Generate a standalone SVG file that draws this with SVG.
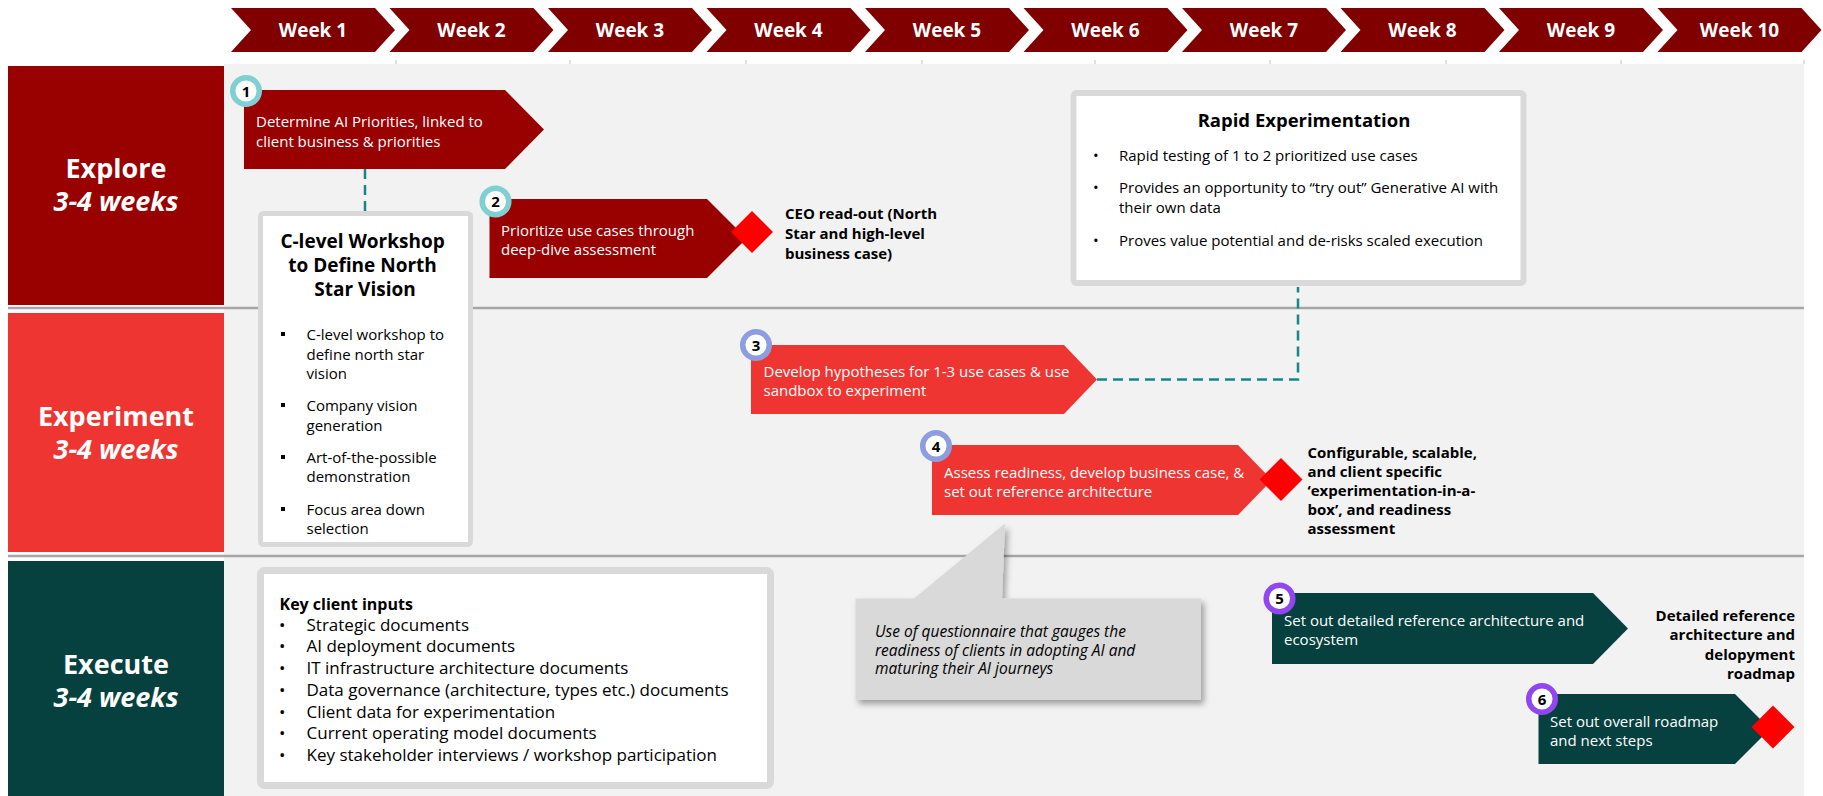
<svg xmlns="http://www.w3.org/2000/svg" width="1823" height="796" viewBox="0 0 1823 796">
  <defs>
    <filter id="shadow" x="-10%" y="-20%" width="130%" height="150%">
      <feDropShadow dx="3" dy="4" stdDeviation="3" flood-color="#000" flood-opacity="0.35"/>
    </filter>
    <style>
      text { font-family: "Open Sans", "Noto Sans", sans-serif; }
      .week { fill: #800000; }
      .week-t { fill: #fff; font-size: 19px; font-weight: 700; text-anchor: middle; }
      .phase-t { fill: #fff; font-size: 27px; font-weight: 700; text-anchor: middle; }
      .phase-i { font-style: italic; }
      .sep { stroke: #A6A6A6; stroke-width: 2.5; }
      .tick { stroke: #BFBFBF; stroke-width: 1; }
      .dark { fill: #990000; }
      .bright { fill: #EF3532; }
      .teal { fill: #06403F; }
      .step-t { fill: #fff; font-size: 15px; }
      .ms { fill: #FF0000; }
      .ms-t { fill: #000; font-size: 15px; font-weight: 700; }
      .card { fill: #fff; stroke: #D9D9D9; }
      .card-h { fill: #000; font-weight: 700; }
      .body { fill: #000; font-size: 15px; }
      .body-l { fill: #000; font-size: 17px; }
      .badge-n { fill: #000; font-size: 15px; font-weight: 700; text-anchor: middle; }
      .conn { fill: none; stroke: #17868A; stroke-width: 2.5; stroke-dasharray: 10 6; }
      .note { fill: #000; font-size: 15.5px; font-style: italic; }
    </style>
  </defs>

  <!-- page and lane backgrounds -->
  <rect x="0" y="0" width="1823" height="796" fill="#fff"/>
  <rect x="224" y="64" width="1580" height="732" fill="#F2F2F2"/>

  <!-- week ticks -->
  <g id="ticks">
    <line class="tick" x1="396" y1="60" x2="396" y2="64"/>
    <line class="tick" x1="570" y1="60" x2="570" y2="64"/>
    <line class="tick" x1="746" y1="60" x2="746" y2="64"/>
    <line class="tick" x1="922" y1="60" x2="922" y2="64"/>
    <line class="tick" x1="1095" y1="60" x2="1095" y2="64"/>
    <line class="tick" x1="1270" y1="60" x2="1270" y2="64"/>
    <line class="tick" x1="1446" y1="60" x2="1446" y2="64"/>
    <line class="tick" x1="1621" y1="60" x2="1621" y2="64"/>
    <line class="tick" x1="1804" y1="60" x2="1804" y2="64"/>
  </g>

  <!-- timeline header -->
  <g id="weeks">
    <g id="week-1"><path class="week" d="M231 8H375L395 30L375 52H231L251 30Z"/><text class="week-t" x="313" y="37">Week 1</text></g>
    <g id="week-2"><path class="week" d="M389.5 8H533.5L553.5 30L533.5 52H389.5L409.5 30Z"/><text class="week-t" x="471.5" y="37">Week 2</text></g>
    <g id="week-3"><path class="week" d="M548 8H692L712 30L692 52H548L568 30Z"/><text class="week-t" x="630" y="37">Week 3</text></g>
    <g id="week-4"><path class="week" d="M706.5 8H850.5L870.5 30L850.5 52H706.5L726.5 30Z"/><text class="week-t" x="788.5" y="37">Week 4</text></g>
    <g id="week-5"><path class="week" d="M865 8H1009L1029 30L1009 52H865L885 30Z"/><text class="week-t" x="947" y="37">Week 5</text></g>
    <g id="week-6"><path class="week" d="M1023.5 8H1167.5L1187.5 30L1167.5 52H1023.5L1043.5 30Z"/><text class="week-t" x="1105.5" y="37">Week 6</text></g>
    <g id="week-7"><path class="week" d="M1182 8H1326L1346 30L1326 52H1182L1202 30Z"/><text class="week-t" x="1264" y="37">Week 7</text></g>
    <g id="week-8"><path class="week" d="M1340.5 8H1484.5L1504.5 30L1484.5 52H1340.5L1360.5 30Z"/><text class="week-t" x="1422.5" y="37">Week 8</text></g>
    <g id="week-9"><path class="week" d="M1499 8H1643L1663 30L1643 52H1499L1519 30Z"/><text class="week-t" x="1581" y="37">Week 9</text></g>
    <g id="week-10"><path class="week" d="M1657.5 8H1801.5L1821.5 30L1801.5 52H1657.5L1677.5 30Z"/><text class="week-t" x="1739.5" y="37">Week 10</text></g>
  </g>

  <!-- phase labels -->
  <g id="phase-explore">
    <rect x="8" y="66" width="216" height="239" fill="#990000"/>
    <text class="phase-t" x="116" y="178">Explore</text>
    <text class="phase-t phase-i" x="116" y="211">3-4 weeks</text>
  </g>
  <g id="phase-experiment">
    <rect x="8" y="313" width="216" height="239" fill="#EF3532"/>
    <text class="phase-t" x="116" y="426">Experiment</text>
    <text class="phase-t phase-i" x="116" y="459">3-4 weeks</text>
  </g>
  <g id="phase-execute">
    <rect x="8" y="561" width="216" height="235" fill="#06403F"/>
    <text class="phase-t" x="116" y="674">Execute</text>
    <text class="phase-t phase-i" x="116" y="707">3-4 weeks</text>
  </g>

  <!-- lane separators -->
  <line class="sep" x1="8" y1="308" x2="1804" y2="308"/>
  <line class="sep" x1="8" y1="556" x2="1804" y2="556"/>

  <!-- connectors -->
  <g id="connectors">
    <path class="conn" d="M365 169V213"/>
    <path class="conn" d="M1097 379.5H1298V287"/>
  </g>

  <!-- C-level workshop card -->
  <g id="workshop-card">
    <rect class="card" x="260.5" y="213.5" width="210" height="331" rx="3" stroke-width="5"/>
    <text class="card-h" font-size="19" text-anchor="middle">
      <tspan x="365" y="248">C-level Workshop</tspan>
      <tspan x="365" y="272">to Define North</tspan>
      <tspan x="365" y="296">Star Vision</tspan>
    </text>
    <g fill="#000">
      <rect x="281" y="332" width="4" height="4"/>
      <rect x="281" y="403" width="4" height="4"/>
      <rect x="281" y="455" width="4" height="4"/>
      <rect x="281" y="507" width="4" height="4"/>
    </g>
    <text class="body">
      <tspan x="306.5" y="340">C-level workshop to</tspan>
      <tspan x="306.5" y="359.5">define north star</tspan>
      <tspan x="306.5" y="379">vision</tspan>
      <tspan x="306.5" y="411">Company vision</tspan>
      <tspan x="306.5" y="430.5">generation</tspan>
      <tspan x="306.5" y="463">Art-of-the-possible</tspan>
      <tspan x="306.5" y="482">demonstration</tspan>
      <tspan x="306.5" y="515">Focus area down</tspan>
      <tspan x="306.5" y="534">selection</tspan>
    </text>
  </g>

  <!-- Rapid experimentation card -->
  <g id="rapid-card">
    <rect class="card" x="1073.5" y="93" width="450" height="190" rx="3" stroke-width="6"/>
    <text class="card-h" font-size="18.5" x="1304" y="127" text-anchor="middle">Rapid Experimentation</text>
    <text class="body">
      <tspan x="1093" y="160.5">•</tspan><tspan x="1119" y="160.5">Rapid testing of 1 to 2 prioritized use cases</tspan>
      <tspan x="1093" y="193">•</tspan><tspan x="1119" y="193">Provides an opportunity to “try out” Generative AI with</tspan>
      <tspan x="1119" y="212.5">their own data</tspan>
      <tspan x="1093" y="245.5">•</tspan><tspan x="1119" y="245.5">Proves value potential and de-risks scaled execution</tspan>
    </text>
  </g>

  <!-- Key client inputs card -->
  <g id="inputs-card">
    <rect class="card" x="260.5" y="570.5" width="510" height="215" rx="4" stroke-width="7"/>
    <text class="card-h" font-size="16" x="279.5" y="610">Key client inputs</text>
    <text class="body-l">
      <tspan x="279" y="630.5">•</tspan><tspan x="306.5" y="630.5">Strategic documents</tspan>
      <tspan x="279" y="652">•</tspan><tspan x="306.5" y="652">AI deployment documents</tspan>
      <tspan x="279" y="673.7">•</tspan><tspan x="306.5" y="673.7">IT infrastructure architecture documents</tspan>
      <tspan x="279" y="695.5">•</tspan><tspan x="306.5" y="695.5">Data governance (architecture, types etc.) documents</tspan>
      <tspan x="279" y="717.5">•</tspan><tspan x="306.5" y="717.5">Client data for experimentation</tspan>
      <tspan x="279" y="738.8">•</tspan><tspan x="306.5" y="738.8">Current operating model documents</tspan>
      <tspan x="279" y="760.5">•</tspan><tspan x="306.5" y="760.5">Key stakeholder interviews / workshop participation</tspan>
    </text>
  </g>

  <!-- questionnaire callout -->
  <g id="callout">
    <path d="M855.5 598.5H914L1005 523.5L1002 598.5H1201V700H855.5Z" fill="#D9D9D9" filter="url(#shadow)"/>
    <text class="note">
      <tspan x="875" y="637">Use of questionnaire that gauges the</tspan>
      <tspan x="875" y="655.5">readiness of clients in adopting AI and</tspan>
      <tspan x="875" y="674">maturing their AI journeys</tspan>
    </text>
  </g>

  <!-- step 1 -->
  <g id="step-1">
    <path class="dark" d="M244 90H505L544 129.5L505 169H244Z"/>
    <text class="step-t"><tspan x="256" y="126.5">Determine AI Priorities, linked to</tspan><tspan x="256" y="146.5">client business &amp; priorities</tspan></text>
    <circle cx="246" cy="91" r="13.3" fill="#fff" stroke="#7FCFD3" stroke-width="5.5"/>
    <text class="badge-n" x="246" y="96.5">1</text>
  </g>

  <!-- step 2 -->
  <g id="step-2">
    <path class="dark" d="M489.5 199H707L746.5 238.5L707 278H489.5Z"/>
    <text class="step-t"><tspan x="501" y="235.5">Prioritize use cases through</tspan><tspan x="501" y="255">deep-dive assessment</tspan></text>
    <circle cx="495.5" cy="201.5" r="13.3" fill="#fff" stroke="#7FCFD3" stroke-width="5.5"/>
    <text class="badge-n" x="495.5" y="207">2</text>
  </g>
  <g id="milestone-1">
    <path class="ms" d="M752 211L773 232L752 253L731 232Z"/>
    <text class="ms-t"><tspan x="785" y="219">CEO read-out (North</tspan><tspan x="785" y="239">Star and high-level</tspan><tspan x="785" y="258.5">business case)</tspan></text>
  </g>

  <!-- step 3 -->
  <g id="step-3">
    <path class="bright" d="M751 345H1064L1097 379.5L1064 414H751Z"/>
    <text class="step-t"><tspan x="763.5" y="376.5">Develop hypotheses for 1-3 use cases &amp; use</tspan><tspan x="763.5" y="395.5">sandbox to experiment</tspan></text>
    <circle cx="756" cy="345" r="13.3" fill="#fff" stroke="#8C9EE0" stroke-width="5.5"/>
    <text class="badge-n" x="756" y="350.5">3</text>
  </g>

  <!-- step 4 -->
  <g id="step-4">
    <path class="bright" d="M932 445H1238L1272 480L1238 515H932Z"/>
    <text class="step-t"><tspan x="944" y="477.5">Assess readiness, develop business case, &amp;</tspan><tspan x="944" y="496.5">set out reference architecture</tspan></text>
    <circle cx="936" cy="446" r="13.3" fill="#fff" stroke="#8C9EE0" stroke-width="5.5"/>
    <text class="badge-n" x="936" y="451.5">4</text>
  </g>
  <g id="milestone-2">
    <path class="ms" d="M1281 458L1302.5 479.5L1281 501L1259.5 479.5Z"/>
    <text class="ms-t"><tspan x="1307.5" y="457.5">Configurable, scalable,</tspan><tspan x="1307.5" y="476.5">and client specific</tspan><tspan x="1307.5" y="495.5">‘experimentation-in-a-</tspan><tspan x="1307.5" y="514.5">box’, and readiness</tspan><tspan x="1307.5" y="533.5">assessment</tspan></text>
  </g>

  <!-- step 5 -->
  <g id="step-5">
    <path class="teal" d="M1272 593H1593L1628 628.5L1593 664H1272Z"/>
    <text class="step-t"><tspan x="1284" y="625.5">Set out detailed reference architecture and</tspan><tspan x="1284" y="645">ecosystem</tspan></text>
    <circle cx="1279.5" cy="598.5" r="13.3" fill="#fff" stroke="#9146F0" stroke-width="5.5"/>
    <text class="badge-n" x="1279.5" y="604">5</text>
  </g>
  <g id="deliverable-5">
    <text class="ms-t" text-anchor="end"><tspan x="1795" y="620.5">Detailed reference</tspan><tspan x="1795" y="640">architecture and</tspan><tspan x="1795" y="659.5">delopyment</tspan><tspan x="1795" y="679">roadmap</tspan></text>
  </g>

  <!-- step 6 -->
  <g id="step-6">
    <path class="teal" d="M1538.5 694H1735L1770 729L1735 764H1538.5Z"/>
    <text class="step-t"><tspan x="1550" y="727">Set out overall roadmap</tspan><tspan x="1550" y="746">and next steps</tspan></text>
    <circle cx="1542" cy="699" r="13.3" fill="#fff" stroke="#9146F0" stroke-width="5.5"/>
    <text class="badge-n" x="1542" y="704.5">6</text>
  </g>
  <g id="milestone-3">
    <path class="ms" d="M1773 705.5L1794.5 727L1773 748.5L1751.5 727Z"/>
  </g>
</svg>
